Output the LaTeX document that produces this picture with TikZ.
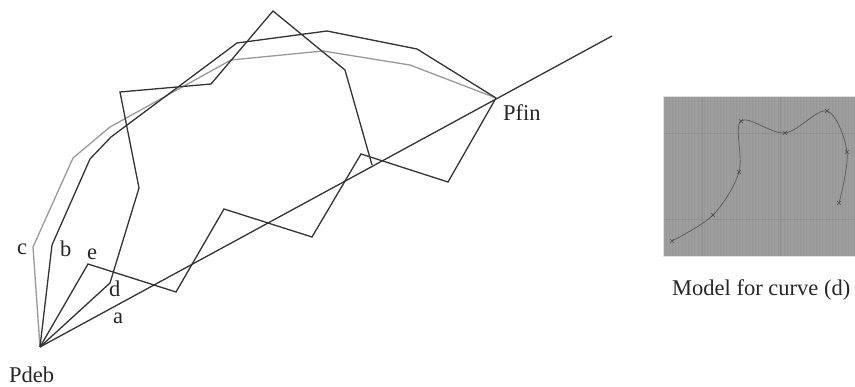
\documentclass[tikz,border=0pt]{standalone}
\usepackage{fontspec}
\setmainfont{Liberation Serif}
\begin{document}
\begin{tikzpicture}[x=1pt,y=-1pt,
  curveline/.style={draw=black!80, line width=1.3pt, line join=miter},
  lightline/.style={draw=black!40, line width=1.3pt, line join=miter},
  lbl/.style={inner sep=0pt, anchor=base west, font=\fontsize{22.5}{27}\selectfont, text=black!85},
  modelpt/.style={draw=black!70, line width=0.6pt}]
\useasboundingbox (0,0) rectangle (855,387);
% end points
\coordinate (Pdeb) at (40,347);
\coordinate (Pfin) at (496,98);
\coordinate (aend) at (612,36);
% curve c (light)
\coordinate (c1) at (33,247);
\coordinate (c2) at (73,158);
\coordinate (c3) at (110,127);
\coordinate (c4) at (231,60);
\coordinate (c5) at (323,51);
\coordinate (c6) at (410,65);
% curve b
\coordinate (b1) at (52,245);
\coordinate (b2) at (90,159);
\coordinate (b3) at (111,137);
\coordinate (b4) at (237,43);
\coordinate (b5) at (327,31);
\coordinate (b6) at (417,49);
% curve d
\coordinate (d1) at (110,283);
\coordinate (d2) at (139,188);
\coordinate (d3) at (120,92);
\coordinate (d4) at (211,84);
\coordinate (d5) at (273,11);
\coordinate (d6) at (345,70);
\coordinate (d7) at (372,165);
% curve e
\coordinate (e1) at (88,264);
\coordinate (e2) at (176,292);
\coordinate (e3) at (224,209);
\coordinate (e4) at (312,237);
\coordinate (e5) at (361,154);
\coordinate (e6) at (448,182);

\draw[lightline] (Pdeb) -- (c1) -- (c2) -- (c3) -- (c4) -- (c5) -- (c6) -- (Pfin);
\draw[curveline] (Pdeb) -- (b1) -- (b2) -- (b3) -- (b4) -- (b5) -- (b6) -- (Pfin);
\draw[curveline] (Pdeb) -- (d1) -- (d2) -- (d3) -- (d4) -- (d5) -- (d6) -- (d7);
\draw[curveline] (Pdeb) -- (e1) -- (e2) -- (e3) -- (e4) -- (e5) -- (e6) -- (Pfin);
\draw[curveline] (Pdeb) -- (aend);

% labels
\node[lbl] (lPfin) at (503,121) {Pfin};
\node[lbl] (lPdeb) at (9,383) {Pdeb};
\node[lbl] (lc) at (17,255) {c};
\node[lbl] (lb) at (60,257) {b};
\node[lbl] (le) at (87,260) {e};
\node[lbl] (ld) at (109,297) {d};
\node[lbl] (la) at (113,324) {a};

% model panel
\fill[black!38] (663,97) rectangle (855,257);
\begin{scope}
\clip (663,97) rectangle (855,257);
\draw[black!41, line width=0.15pt, step=3.2] (663,97) grid (855,257);
\foreach \gx in {702,780} \draw[black!43, line width=0.4pt] (\gx,97) -- (\gx,257);
\foreach \gy in {133,219} \draw[black!43, line width=0.4pt] (663,\gy) -- (855,\gy);
\end{scope}
\draw[black!12, line width=1pt] (663,257) -- (663,97) -- (855,97);
\draw[black!12, line width=1pt] (663,257) -- (855,257);
\coordinate (m1) at (672,241);
\coordinate (m2) at (713,215);
\coordinate (m3) at (739,172);
\coordinate (m4) at (741,121);
\coordinate (m5) at (785,133);
\coordinate (m6) at (827,111);
\coordinate (m7) at (847,152);
\coordinate (m8) at (839,203);
\draw[black!65, line width=0.7pt] plot[smooth, tension=0.55] coordinates {(672,241) (713,215) (739,172) (741,121) (785,133) (827,111) (847,152) (839,203)};
\foreach \m in {m1,m2,m3,m4,m5,m6,m7,m8}
  \draw[modelpt] ([shift={(-2,-2)}]\m) -- ([shift={(2,2)}]\m) ([shift={(-2,2)}]\m) -- ([shift={(2,-2)}]\m);
\node[lbl] (lmodel) at (672,296) {Model for curve (d)};
\end{tikzpicture}
\end{document}
